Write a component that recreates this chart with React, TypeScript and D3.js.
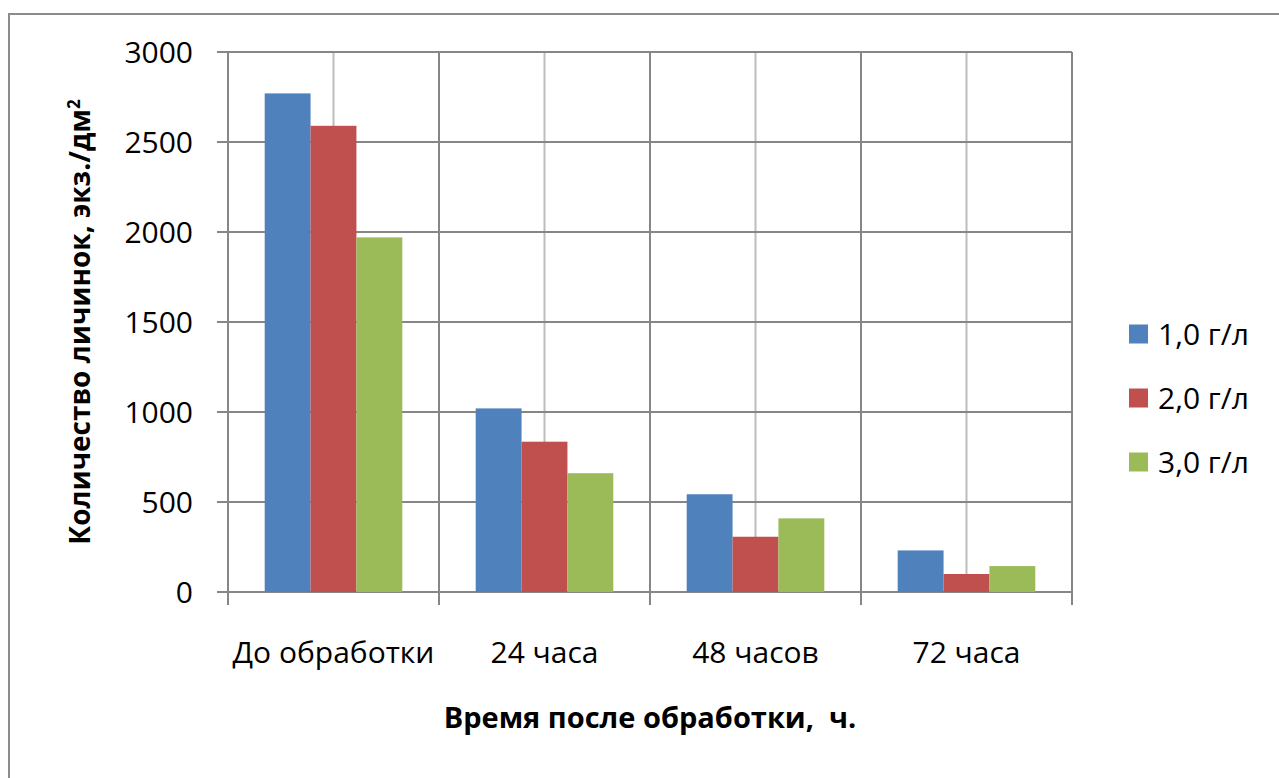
import React from "react";
import * as d3 from "d3";

const categories = ["До обработки", "24 часа", "48 часов", "72 часа"];
const seriesNames = ["1,0 г/л", "2,0 г/л", "3,0 г/л"];
const dose1 = [2770, 1020, 543, 231];
const dose2 = [2590, 835, 307, 100];
const dose3 = [1970, 660, 409, 144];
const yTicks = [0, 500, 1000, 1500, 2000, 2500, 3000];

const COLORS = ["#4F81BD", "#C0504D", "#9BBB59"];
const FONT = "'Open Sans', 'Noto Sans', sans-serif";

const W = 1279;
const H = 778;
const PLOT = {left: 228, right: 1072, top: 52, bottom: 592};

export default function App() {
  const series = [dose1, dose2, dose3];

  const x = d3
    .scaleBand<string>()
    .domain(categories)
    .range([PLOT.left, PLOT.right])
    .paddingInner(0)
    .paddingOuter(0);
  const inner = d3
    .scaleBand<number>()
    .domain(d3.range(series.length))
    .range([0, x.bandwidth()])
    .paddingOuter(0.8)
    .paddingInner(0);
  const y = d3.scaleLinear().domain([0, 3000]).range([PLOT.bottom, PLOT.top]);

  const boundaries = categories.map((c) => x(c)!).concat([PLOT.right]);

  return (
    <svg
      width={W}
      height={H}
      style={{position: "absolute", left: 0, top: 0, background: "#fff"}}
      fontFamily={FONT}
    >
      {/* chart frame */}
      <rect x={9} y={14} width={W + 20} height={H + 20} fill="#fff" stroke="#8c8c8c" strokeWidth={2} />

      {/* light vertical lines at category centres */}
      {categories.map((c) => (
        <line
          key={"c" + c}
          x1={x(c)! + x.bandwidth() / 2}
          x2={x(c)! + x.bandwidth() / 2}
          y1={PLOT.top}
          y2={PLOT.bottom}
          stroke="#bdbdbd"
          strokeWidth={2}
        />
      ))}

      {/* horizontal gridlines */}
      {yTicks.map((t) => (
        <line key={"h" + t} x1={PLOT.left - 11} x2={PLOT.right} y1={y(t)} y2={y(t)} stroke="#868686" strokeWidth={2} />
      ))}

      {/* vertical gridlines at category boundaries, with ticks below the axis */}
      {boundaries.map((bx, i) => (
        <line key={"v" + i} x1={bx} x2={bx} y1={PLOT.top} y2={PLOT.bottom + 13} stroke="#868686" strokeWidth={2} />
      ))}

      {/* bars */}
      {series.map((vals, si) =>
        vals.map((v, ci) => (
          <rect
            key={si + "-" + ci}
            x={x(categories[ci])! + inner(si)!}
            y={y(v)}
            width={inner.bandwidth()}
            height={y(0) - y(v)}
            fill={COLORS[si]}
          />
        ))
      )}

      {/* y tick labels */}
      {yTicks.map((t) => (
        <text key={"yl" + t} x={193} y={y(t)} dy="0.36em" textAnchor="end" fontSize={30} fill="#000">
          {t}
        </text>
      ))}

      {/* x tick labels */}
      {categories.map((c) => (
        <text key={"xl" + c} x={x(c)! + x.bandwidth() / 2} y={663} textAnchor="middle" fontSize={30} fill="#000">
          {c}
        </text>
      ))}

      {/* axis titles */}
      <text x={(PLOT.left + PLOT.right) / 2} y={728} textAnchor="middle" fontSize={29} fontWeight="bold" fill="#000">
        {"Время после обработки,\u00a0 ч."}
      </text>
      <text
        transform={`translate(90, 322) rotate(-90)`}
        textAnchor="middle"
        fontSize={28}
        fontWeight="bold"
        fill="#000"
      >
        Количество личинок, экз./дм
        <tspan dy={-10} fontSize={17}>2</tspan>
      </text>

      {/* legend */}
      {seriesNames.map((n, i) => (
        <g key={"lg" + n} transform={`translate(1129, ${334 + i * 64})`}>
          <rect x={0} y={-9.5} width={19} height={19} fill={COLORS[i]} />
          <text x={29} y={0} dy="0.36em" fontSize={30} fill="#000">
            {n}
          </text>
        </g>
      ))}
    </svg>
  );
}
